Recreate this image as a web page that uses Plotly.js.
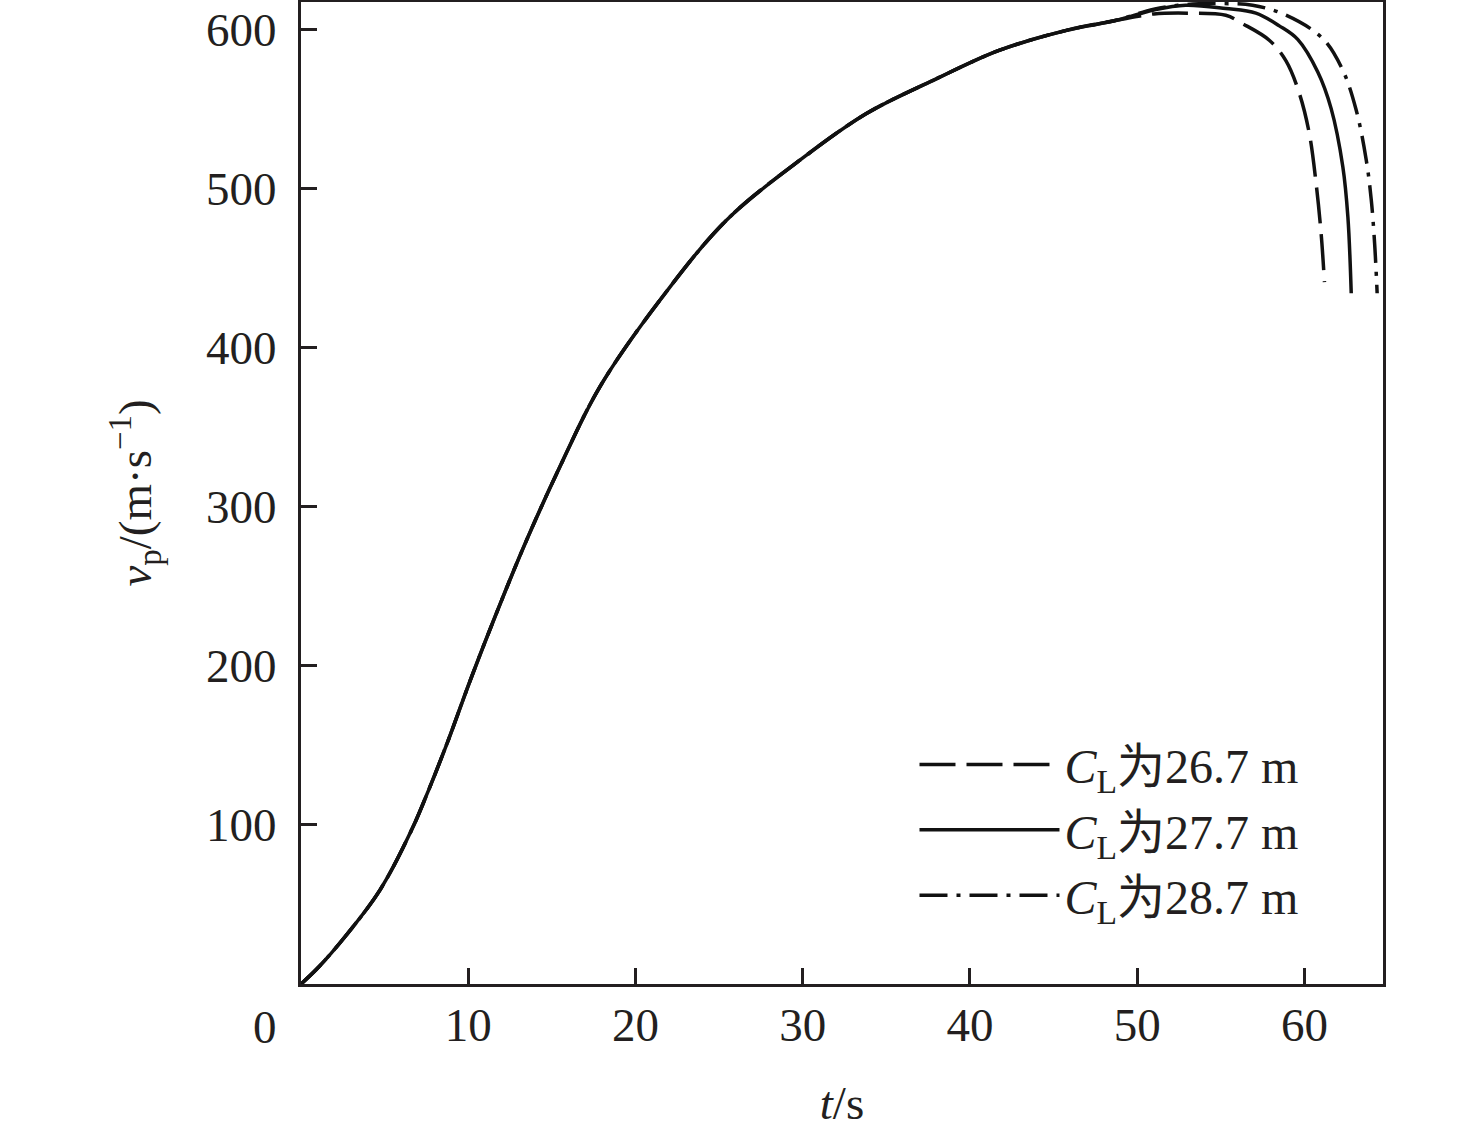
<!DOCTYPE html>
<html>
<head>
<meta charset="utf-8">
<script src="https://cdn.plot.ly/plotly-3.0.1.min.js"></script>
<style>
html,body{margin:0;padding:0;background:#fff;}
#chart{width:1476px;height:1135px;}
</style>
</head>
<body>
<div id="chart"></div>
<script>
// shared rising part (all three cases overlap)
var tCommon = [0, 1, 2.63, 4.72, 6.61, 7.71, 8.81, 10.2, 12.0, 13.49, 15.48, 17.87, 21.46, 25.44, 29.83, 33.81, 37.8, 41.78, 45.77, 48.76];
var vCommon = [0, 10, 29.7, 59, 96.7, 123.9, 153.3, 193, 241.2, 278.9, 325, 375.2, 429.6, 479.9, 517.6, 546.9, 567.8, 586.7, 599.2, 605.5];

// tails for each case
var tTail267 = [51, 53, 55.3, 56.3, 57.9, 58.9, 59.7, 60.3, 60.7, 61.0, 61.2];
var vTail267 = [609.5, 610, 608.7, 603.4, 593, 580, 559.5, 534, 503, 471.5, 441];

var tTail277 = [51, 52.9, 55.3, 57.1, 58.5, 59.6, 60.8, 61.6, 62.3, 62.6, 62.8];
var vTail277 = [612, 615, 612.9, 610, 602, 593.5, 573, 550, 513.4, 482, 434];

var tTail287 = [51, 53, 55, 56.9, 58.9, 61.1, 62.3, 63.1, 63.7, 64.0, 64.2, 64.35];
var vTail287 = [612.5, 615.5, 616, 615, 608.7, 594, 574, 549, 517.6, 492.5, 465, 434];

var seriesNames = ['<i>C</i><sub>L</sub>为26.7 m', '<i>C</i><sub>L</sub>为27.7 m', '<i>C</i><sub>L</sub>为28.7 m'];
var xTicks = [10, 20, 30, 40, 50, 60];
var yTicks = [100, 200, 300, 400, 500, 600];

var FONT = '"Liberation Serif", "Times New Roman", "Noto Sans CJK SC", serif';
var INK = '#111111';

var traces = [
  {x: tCommon.concat(tTail267), y: vCommon.concat(vTail267), name: seriesNames[0],
   mode: 'lines', line: {color: INK, width: 3.5, dash: '36px,11px', shape: 'spline', smoothing: 1}},
  {x: tCommon.concat(tTail277), y: vCommon.concat(vTail277), name: seriesNames[1],
   mode: 'lines', line: {color: INK, width: 3.5, shape: 'spline', smoothing: 1}},
  {x: tCommon.concat(tTail287), y: vCommon.concat(vTail287), name: seriesNames[2],
   mode: 'lines', line: {color: INK, width: 3.5, dash: '28px,9px,4px,9px', shape: 'spline', smoothing: 1}}
];

var layout = {
  width: 1476, height: 1135,
  margin: {l: 301, r: 93, t: 2, b: 151},
  paper_bgcolor: '#fff', plot_bgcolor: '#fff',
  font: {family: FONT, size: 47, color: '#231f20'},
  showlegend: true,
  legend: {
    x: 0.567, y: 0.262, xanchor: 'left', yanchor: 'top',
    bgcolor: 'rgba(0,0,0,0)', borderwidth: 0,
    itemwidth: 140,
    font: {family: FONT, size: 48, color: '#231f20'}
  },
  xaxis: {
    range: [0, 64.7], tickvals: xTicks, ticktext: xTicks.map(String),
    ticks: 'inside', ticklen: 16, tickwidth: 3, tickcolor: '#231f20',
    showline: true, linewidth: 3, linecolor: '#231f20', mirror: true,
    showgrid: false, zeroline: false,
    tickfont: {family: FONT, size: 47, color: '#231f20'},
    ticklabelstandoff: -2,
    title: {text: '<i>t</i>/s', font: {family: FONT, size: 47, color: '#231f20'}, standoff: 36}
  },
  yaxis: {
    range: [0, 617], tickvals: yTicks, ticktext: yTicks.map(String),
    ticks: 'inside', ticklen: 16, tickwidth: 3, tickcolor: '#231f20',
    showline: true, linewidth: 3, linecolor: '#231f20', mirror: true,
    showgrid: false, zeroline: false,
    tickfont: {family: FONT, size: 47, color: '#231f20'},
    ticklabelstandoff: 12,
    title: {text: '<i>v</i><sub>p</sub>/(m·s<sup>−1</sup>)', font: {family: FONT, size: 47, color: '#231f20'}, standoff: 40}
  },
  annotations: [
    {xref: 'x', yref: 'y', x: 0, y: 0, text: '0', showarrow: false,
     xanchor: 'center', yanchor: 'middle', xshift: -36, yshift: -43,
     font: {family: FONT, size: 47, color: '#231f20'}}
  ]
};

Plotly.newPlot('chart', traces, layout, {displayModeBar: false, staticPlot: true});
</script>
</body>
</html>
